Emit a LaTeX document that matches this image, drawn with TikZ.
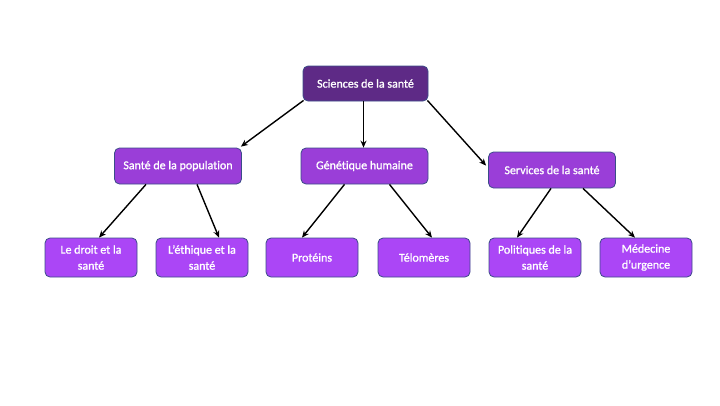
\documentclass[tikz,border=0pt]{standalone}
\usepackage{fontspec}
\setmainfont{Carlito}[Ligatures={NoCommon}, FakeBold=1.2]
\usetikzlibrary{arrows.meta}
\definecolor{topc}{HTML}{5E2A86}
\definecolor{midc}{HTML}{9A3ED8}
\definecolor{botc}{HTML}{AB46F6}
\definecolor{edgec}{HTML}{3B4C88}
\tikzset{
  box/.style={draw=edgec, line width=0.8pt, rounded corners=5pt, text=white, align=center,
    font=\fontsize{12}{16}\selectfont, inner sep=2pt},
  topbox/.style={box, fill=topc, minimum width=125pt, minimum height=35pt},
  midbox/.style={box, fill=midc, minimum width=127pt, minimum height=36pt},
  botbox/.style={box, fill=botc, minimum width=92pt, minimum height=39pt},
  conn/.style={-{Stealth[length=7pt,width=6pt]}, line width=1.4pt, black}
}
\begin{document}
\begin{tikzpicture}[x=1pt,y=-1pt]
\useasboundingbox (0,0) rectangle (720,405);
\node[topbox] (root) at (365.5,83.5) {Sciences de la santé};
\node[midbox] (pop) at (178,166) {Santé de la population};
\node[midbox] (gen) at (364.5,166) {Génétique humaine};
\node[midbox] (serv) at (552,170) {Services de la santé};
\node[botbox] (droit) at (91,257.5) {Le droit et la\\santé};
\node[botbox] (eth) at (202,257.5) {L’éthique et la\\santé};
\node[botbox] (prot) at (312,257.5) {Protéins};
\node[botbox] (telo) at (424,257.5) {Télomères};
\node[botbox] (poli) at (535,257.5) {Politiques de la\\santé};
\node[botbox] (med) at (646,257.5) {Médecine\\d’urgence};
\draw[conn] ([xshift=1pt,yshift=1pt]root.south west) -- ([xshift=-1pt,yshift=1pt]pop.north east);
\draw[conn] ([xshift=-2pt]root.south) -- ([xshift=-1pt]gen.north);
\draw[conn] ([xshift=-1pt,yshift=1pt]root.south east) -- ([xshift=-2pt,yshift=-14pt]serv.north west);
\draw[conn] ([xshift=-32pt]pop.south) -- ([xshift=8pt]droit.north);
\draw[conn] ([xshift=19pt]pop.south) -- ([xshift=17pt]eth.north);
\draw[conn] ([xshift=-20pt]gen.south) -- ([xshift=-10pt]prot.north);
\draw[conn] ([xshift=25pt]gen.south) -- ([xshift=8pt]telo.north);
\draw[conn] ([xshift=-1pt]serv.south) -- ([xshift=-18pt]poli.north);
\draw[conn] ([xshift=31pt]serv.south) -- ([xshift=-11pt]med.north);
\end{tikzpicture}
\end{document}
